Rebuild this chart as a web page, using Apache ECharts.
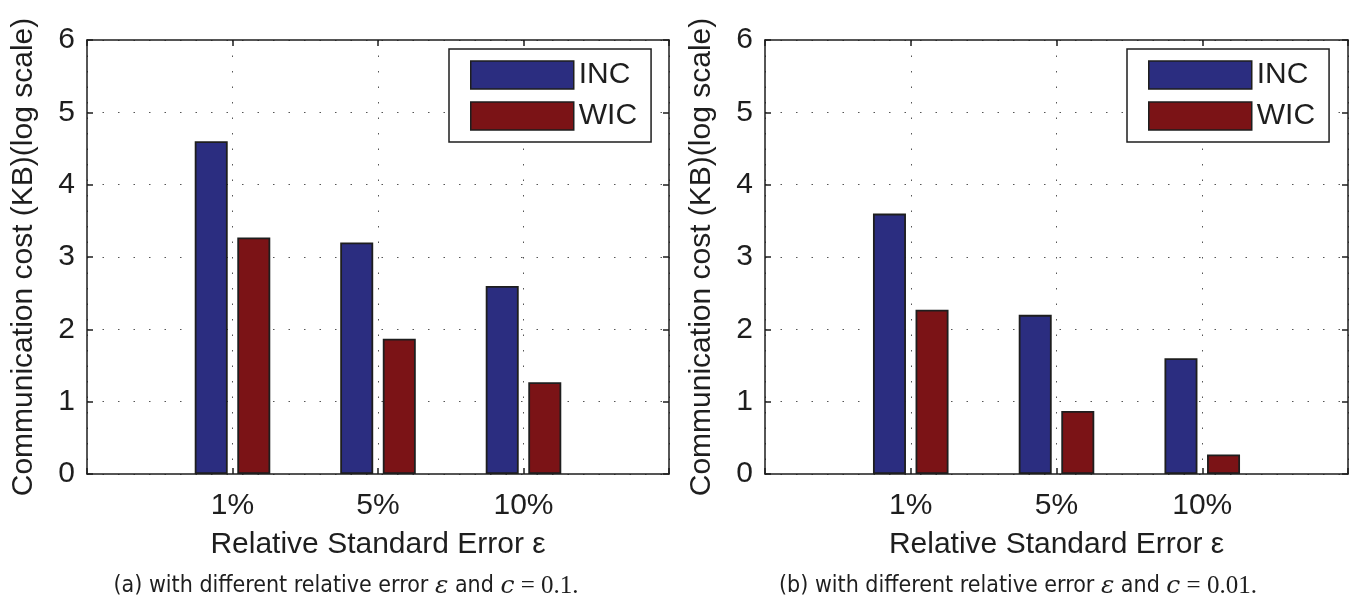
<!DOCTYPE html>
<html>
<head>
<meta charset="utf-8">
<script src="https://cdn.jsdelivr.net/npm/echarts@6/dist/echarts.min.js"></script>
<style>html,body{margin:0;padding:0;background:#fff;}#c{width:1354px;height:601px;}</style>
</head>
<body>
<div id="c"></div>
<script>
var categories = ['1%', '5%', '10%'];
var seriesNames = ['INC', 'WIC'];
var incA = [4.6, 3.2, 2.6];
var wicA = [3.27, 1.87, 1.27];
var incB = [3.6, 2.2, 1.6];
var wicB = [2.27, 0.87, 0.27];
var yTicks = [0, 1, 2, 3, 4, 5, 6];
var xTitle = 'Relative Standard Error \u03b5';
var yTitle = 'Communication cost (KB)(log scale)';
var captionA = ['(a) with different relative error ', '\u03b5', ' and ', 'c', ' = 0.1.'];
var captionB = ['(b) with different relative error ', '\u03b5', ' and ', 'c', ' = 0.01.'];

var COLORS = ['#2b2d80', '#7b1316'];
var FONT = '"Liberation Sans", Arial, Helvetica, sans-serif';
var INK = '#1e1e1e';
var axisCats = [''].concat(categories).concat(['']);
function pad(arr) { return [null].concat(arr).concat([null]); }

var dotted = { color: '#555', width: 1, type: [1.5, 14] };

function grids() {
  return [
    { left: 87, right: 685, top: 40, bottom: 127, containLabel: false },
    { left: 765, right: 6, top: 40, bottom: 127, containLabel: false }
  ];
}

var xAxes = [], yAxes = [];
[0, 1].forEach(function (g) {
  xAxes.push({
    type: 'category', gridIndex: g, data: axisCats, boundaryGap: false, position: 'bottom',
    axisLine: { show: true, onZero: false, lineStyle: { color: INK, width: 1.5 } },
    axisTick: { show: true, inside: true, length: 6, interval: 0, lineStyle: { color: INK, width: 1.5 } },
    axisLabel: { interval: 0, margin: 17, fontSize: 30, color: INK, fontFamily: FONT },
    splitLine: { show: true, interval: 0, lineStyle: dotted },
    name: xTitle, nameLocation: 'middle', nameGap: 56,
    nameTextStyle: { fontSize: 30, color: INK, fontFamily: FONT }
  });
  xAxes.push({
    type: 'category', gridIndex: g, data: axisCats, boundaryGap: false, position: 'top',
    axisLine: { show: true, onZero: false, lineStyle: { color: INK, width: 1.5 } },
    axisTick: { show: true, inside: true, length: 6, interval: 0, lineStyle: { color: INK, width: 1.5 } },
    axisLabel: { show: false }, splitLine: { show: false }
  });
  yAxes.push({
    type: 'value', gridIndex: g, min: yTicks[0], max: yTicks[yTicks.length - 1], interval: 1, position: 'left',
    axisLine: { show: true, onZero: false, lineStyle: { color: INK, width: 1.5 } },
    axisTick: { show: true, inside: true, length: 6, lineStyle: { color: INK, width: 1.5 } },
    axisLabel: { margin: 12, fontSize: 30, color: INK, fontFamily: FONT },
    splitLine: { show: true, lineStyle: dotted },
    name: yTitle, nameLocation: 'middle', nameGap: 48, nameRotate: 90,
    nameTextStyle: { fontSize: 30, color: INK, fontFamily: FONT }
  });
  yAxes.push({
    type: 'value', gridIndex: g, min: yTicks[0], max: yTicks[yTicks.length - 1], interval: 1, position: 'right',
    axisLine: { show: true, onZero: false, lineStyle: { color: INK, width: 1.5 } },
    axisTick: { show: true, inside: true, length: 6, lineStyle: { color: INK, width: 1.5 } },
    axisLabel: { show: false }, splitLine: { show: false }
  });
});

function barSeries(name, data, g, color) {
  return {
    type: 'bar', name: name, data: pad(data), xAxisIndex: g * 2, yAxisIndex: g * 2,
    barWidth: 33, barGap: '29%',
    itemStyle: { color: color, borderColor: INK, borderWidth: 1.8 },
    emphasis: { disabled: true }, animation: false
  };
}

function legend(left) {
  return {
    show: true, orient: 'vertical', left: left, top: 49, data: seriesNames,
    icon: 'rect', itemWidth: 103, itemHeight: 28, itemGap: 11, itemTextGap: 12,
    padding: [11, 14, 11, 21], borderColor: INK, borderWidth: 1.5, backgroundColor: '#fff',
    textStyle: { fontSize: 30, color: INK, fontFamily: FONT },
    itemStyle: { borderColor: INK, borderWidth: 1.5 },
    selectedMode: false
  };
}

function caption(parts, cx) {
  return {
    text: '{s|' + parts[0] + '}{m|' + parts[1] + '}{s|' + parts[2] + '}{m|' + parts[3] + '}{r|' + parts[4] + '}',
    left: cx, top: 569, textAlign: 'center',
    textStyle: {
      fontWeight: 'normal',
      rich: {
        s: { fontSize: 23, fontWeight: 'normal', color: INK, fontFamily: '"DejaVu Sans Condensed", "Liberation Sans", sans-serif' },
        m: { fontSize: 25, fontWeight: 'normal', color: INK, fontStyle: 'italic', fontFamily: '"DejaVu Serif", "Liberation Serif", serif' },
        r: { fontSize: 25, fontWeight: 'normal', color: INK, fontFamily: '"Liberation Serif", "DejaVu Serif", serif' }
      }
    }
  };
}

var chart = echarts.init(document.getElementById('c'), null, { renderer: 'canvas' });
chart.setOption({
  animation: false,
  backgroundColor: '#fff',
  color: COLORS,
  title: [caption(captionA, 341), caption(captionB, 1013)],
  legend: [legend(449), legend(1127)],
  grid: grids(),
  xAxis: xAxes,
  yAxis: yAxes,
  series: [
    barSeries(seriesNames[0], incA, 0, COLORS[0]),
    barSeries(seriesNames[1], wicA, 0, COLORS[1]),
    barSeries(seriesNames[0], incB, 1, COLORS[0]),
    barSeries(seriesNames[1], wicB, 1, COLORS[1])
  ]
});
</script>
</body>
</html>
